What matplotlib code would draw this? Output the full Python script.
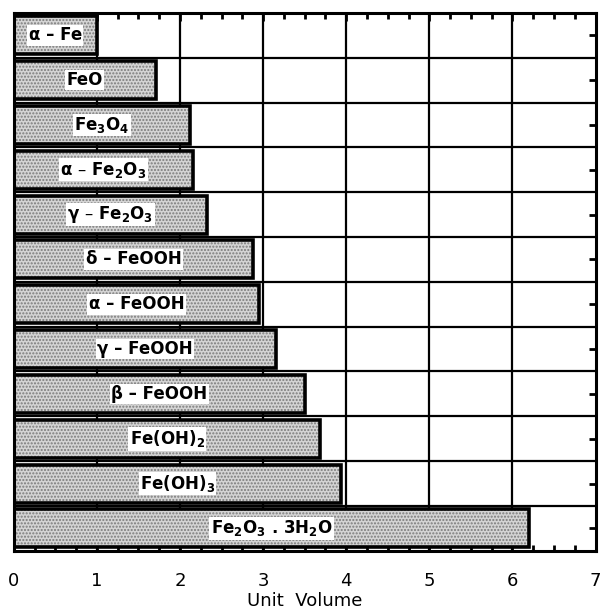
import numpy as np
import matplotlib.pyplot as plt
from matplotlib.ticker import MultipleLocator

plt.rcParams['mathtext.default'] = 'regular'

# corrosion products, top to bottom
labels = ['α – Fe', 'FeO', r'Fe$_3$O$_4$', r'α – Fe$_2$O$_3$',
          r'γ – Fe$_2$O$_3$', 'δ – FeOOH', 'α – FeOOH',
          'γ – FeOOH', 'β – FeOOH', r'Fe(OH)$_2$', r'Fe(OH)$_3$',
          r'Fe$_2$O$_3$ . 3H$_2$O']
volumes = [1.0, 1.71, 2.12, 2.15, 2.32, 2.88, 2.95, 3.16, 3.50, 3.69, 3.94, 6.20]
xticks = [0, 1, 2, 3, 4, 5, 6, 7]

fig = plt.figure(figsize=(6.01, 6.12), dpi=100)
ax = fig.add_axes([0.023, 0.10, 0.968, 0.879])

y = np.arange(len(labels))

# grid behind bars
for xv in xticks[1:-1]:
    ax.axvline(xv, color='black', lw=1.6, zorder=0)
for yb in np.arange(0.5, len(labels) - 0.5, 1):
    ax.axhline(yb, color='black', lw=1.6, zorder=0)

# stippled fill, then heavy outline
ax.barh(y, volumes, height=0.85, left=0, color='#d4d4d4', edgecolor='#7a7a7a',
        hatch='.....', lw=0, zorder=2)
ax.barh(y, volumes, height=0.85, left=0, fill=False, edgecolor='black',
        lw=2.6, zorder=3)

for yi, v, lab in zip(y, volumes, labels):
    ax.text(v / 2, yi, lab, ha='center', va='center', fontsize=12,
            fontweight='bold', zorder=4,
            bbox=dict(facecolor='white', edgecolor='none', pad=1.0))

ax.set_xlim(0, 7)
ax.set_ylim(len(labels) - 0.5, -0.5)
ax.set_xticks(xticks)
ax.xaxis.set_minor_locator(MultipleLocator(0.25))
ax.set_yticks(y)
ax.set_yticklabels([])
ax.tick_params(axis='x', which='both', direction='in', top=True, bottom=True,
               labelsize=13, pad=15, width=2)
ax.tick_params(axis='x', which='major', length=6)
ax.tick_params(axis='x', which='minor', length=4)
ax.tick_params(axis='y', direction='in', left=True, right=True, length=5, width=2)
for s in ax.spines.values():
    s.set_linewidth(2.2)

ax.set_xlabel('Unit  Volume', fontsize=13, labelpad=2)

fig.savefig('out.png', dpi=100)
